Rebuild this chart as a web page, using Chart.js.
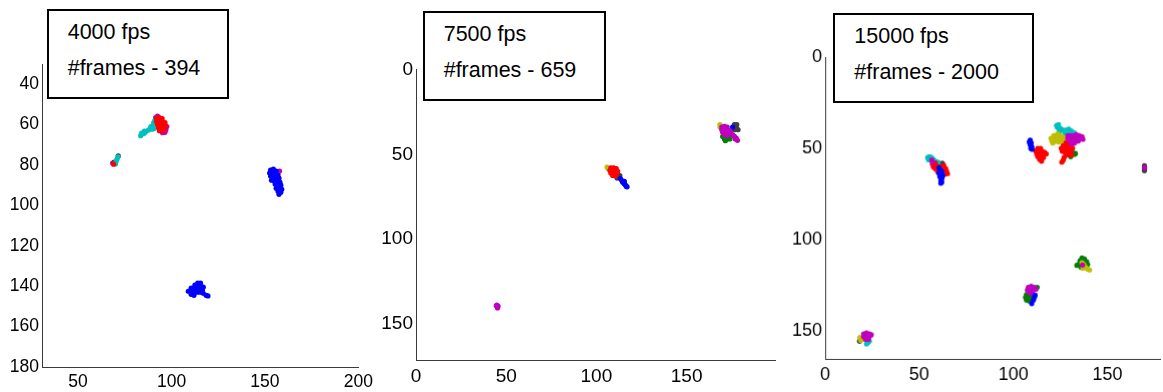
<!DOCTYPE html>
<html>
<head>
<meta charset="utf-8">
<script src="https://cdn.jsdelivr.net/npm/chart.js@4.4.0/dist/chart.umd.min.js"></script>
<style>
  body { margin: 0; width: 1163px; height: 392px; overflow: hidden; position: relative; background: #fff;
         font-family: "Liberation Sans", Arial, Helvetica, sans-serif; }
  .panel { position: absolute; overflow: hidden; }
  .panel canvas { position: absolute; left: 0; top: 0; }
  .note { position: absolute; box-sizing: border-box; border: 2px solid #000; background: #fff; color: #000; }
  .note div { position: absolute; left: 19px; font-size: 21.5px; line-height: 1; white-space: nowrap; }
</style>
</head>
<body>
<script>
// ── Colours (old MATLAB line order) ───────────────────────────────────────────
const BLUE = "#0000FF", GREEN = "#008000", RED = "#FF0000", CYAN = "#00BFBF",
      MAGENTA = "#BF00BF", OLIVE = "#BFBF00", DARK = "#404040";

// ── Panel 1: 4000 fps, 394 frames ─────────────────────────────────────────────
const P1_NOTE = ["4000 fps", "#frames - 394"];
const P1_XTICKS = [50, 100, 150, 200];
const P1_YTICKS = [40, 60, 80, 100, 120, 140, 160, 180];
const P1_RED = [[92,57],[93.5,56.5],[95,57],[92,58.5],[93.5,58.5],[95,58.5],[96.5,59],[92.5,60],[94,60],[95.5,60],
  [96.8,60.5],[93,61.5],[94.5,61.5],[96,61.5],[93.5,63],[95,63],[96,62.5],[69,79.6]];
const P1_BLUE = [[153,82.5],[154.5,82],[156,83],[152.5,84],[154,84],[155.5,84.5],[157,85],[153,85.5],[154.5,86],[156,86],
  [157.5,86.5],[153.5,87.5],[155,88],[156.5,88],[158,88.5],[155.5,89.5],[157,90],[158.5,90],[156,91.5],[157.5,91.5],
  [159,92],[157,93],[158.5,93.5],[157.5,94.5],
  [114,138.5],[115.5,138.5],[112.5,139.5],[114,140],[115.5,140],[117,140.5],[110.5,141],[112,141],[113.5,141.5],[115,141.5],
  [116.5,142],[109,142.5],[110.5,142.5],[112,143],[113.5,143],[115,143],[117,143.5],[110.5,144],[112,144.5],[118.5,144.5],[119.5,144.8]];
const P1_CYAN = [[83.5,65.5],[84,64.2],[85,64.5],[85.5,63.2],[86,63.8],[87.5,62.8],[88.5,62],[89,61],[90,60.5],[90.5,59],
  [91,58],[91.5,59.5],[90.5,62],[89.5,62.3],[71.3,76],[70.8,77.2],[70.3,78.4],[70,79.5]];
const P1_DARK = [[71.5,75.5],[69.3,78.6]];
const P1_MAGENTA = [[91.5,56.5],[92.5,55.8],[97,62.5],[96.5,63.8],[95.2,64],[97.5,61],[68.5,79],[157,83.5],[157.8,83]];

// ── Panel 2: 7500 fps, 659 frames ─────────────────────────────────────────────
const P2_NOTE = ["7500 fps", "#frames - 659"];
const P2_XTICKS = [0, 50, 100, 150];
const P2_YTICKS = [0, 50, 100, 150];
const P2_RED = [[108,58],[109.5,58],[111,58.5],[107.5,59.5],[109,59.5],[110.5,60],[111.8,60],[108,61],[109.5,61.2],
  [111,61.5],[109,62.5],[110.5,62.8]];
const P2_MAGENTA = [[169.5,34],[171,33.5],[172.5,34],[169.5,35.5],[171,35.5],[172.5,35.5],[174,36],[170,37],[171.5,37],
  [173,37.5],[174.5,37.5],[175.5,38.5],[171,38.5],[172.5,39],[176.5,39.5],[177.5,40.5],[178.2,41.8],[177,41],
  [44.8,138.8],[45.5,139.5],[44.5,139.3],[45.2,140.5]];
const P2_BLUE = [[113.3,64.3],[114,65.3],[114.5,66.3],[115.3,67.2],[116,68],[117,69.2],[115.5,66],[116.5,68.8],[175.5,34]];
const P2_DARK = [[112,63.3],[113,62.5],[111.5,64],[176.5,32.5],[177.8,32.5],[176,34],[177.5,34],[178.5,35.5],[176.5,35.5]];
const P2_GREEN = [[170,39.5],[171,41],[172.5,41],[174,41],[173.5,40],[171.5,42]];
const P2_OLIVE = [[105.9,57.5],[106.5,58.5],[168.5,32.5],[168.5,34],[169.5,33.5]];

// ── Panel 3: 15000 fps, 2000 frames ───────────────────────────────────────────
const P3_NOTE = ["15000 fps", "#frames - 2000"];
const P3_XTICKS = [0, 50, 100, 150];
const P3_YTICKS = [0, 50, 100, 150];
const P3_BLUE = [[60.5,60.5],[61,62],[62,62.5],[60.5,63.5],[61.5,64],[62.5,65],[61,65.5],[62,66.5],[61.5,67.5],[62,68.5],
  [61.5,69],[109,45.5],[108.5,46.5],[109.5,47],[109,48],[109.8,49],[110,50.5],[109.3,50],
  [111.6,130.3],[110.7,133],[109.8,134.9],[111.2,131.5]];
const P3_MAGENTA = [[56.7,56.3],[57,57.5],
  [129,43],[130.5,43],[132,43],[133.5,42.5],[135,43],[136.5,43.5],[129,44.5],[130.5,44.5],[132,44.5],[133.5,44.5],
  [135,44.5],[137,45],[130,46],[131.5,46],[133,46],[134.5,46],[131,47.5],[132.5,47],[169.8,60.5],
  [108,126],[109.5,125.5],[111,126],[107.5,127.5],[109,127.5],[110.5,127.5],[112,127],[108.5,129],[110,129],[136.8,113.8],
  [20.5,151.5],[22,151],[23.5,151.5],[20.5,153],[22,153],[23.5,153],[24.5,152],[21.5,154.5],[23,154.5]];
const P3_RED = [[57,58.5],[58.5,58],[57.5,60],[59,59.5],[60.5,60],[59,61.5],[61,61.5],[63,59.5],[64,61],[64.5,62.5],
  [65,63.8],[63.5,64],[60,63],[58,60.5],[62,60],
  [113,50],[114.5,50],[112,51.5],[113.5,51.5],[115,51.5],[116.5,52],[112.5,53],[114,53],[115.5,53.5],[117.5,53],
  [113,54.5],[114.5,54.5],[116,55],[114,56],[115,57],
  [128,47],[129.5,47.5],[126.5,48.5],[128,48.5],[129.5,49],[131,48.5],[125.5,50],[127,50],[128.5,50.5],[130,50.5],
  [131.5,50],[126,51.5],[127.5,52],[129,52],[130.5,52],[128,53.5],[129.5,53.5],[127,55],[126.5,56.5],[125.8,57.5],[131,53.5]];
const P3_OLIVE = [[120,44.5],[120.5,46],[121.5,43],[122,44.5],[122,46],[123.5,42],[123.5,43.5],[123.5,45],[125,43],
  [125,44.5],[125,46],[126.5,44],[126.5,45.5],[128,45],[128,46.5],[124,46.5],[121,47],
  [136.5,112.5],[137.5,113.5],[138.5,115],[139.5,116],[140.5,116.5],[137,115.5],[18.5,153.5],[19,155]];
const P3_CYAN = [[54.5,55],[55.5,54.5],[56.5,55],[55,56.2],[57.5,56],[58.5,57],[60,57.5],
  [123,37.5],[124,37],[123.5,38.5],[125,39],[126.5,40],[128,40],[129.5,39.5],[131,40.5],[132.5,41.5],[127.5,41.5],
  [130,42],[124.5,40.5],[22.7,156.3],[23.5,155.5],[22,157]];
const P3_GREEN = [[63.2,61.8],[64,63],[62.8,63.5],[131.8,52.5],[132.5,53.2],[130.5,54.5],[133,52.8],
  [107,130],[108.5,130.5],[110,130.5],[106.5,131.5],[108,132],[109.5,132],[107,133],[108.5,133.5],[112.7,126],[111.5,127],
  [136.5,110],[137.8,110.5],[135.5,111.5],[139,112],[134.5,113.5],[139.5,113.5],[136,115],[133.8,114]];
const P3_DARK = [[62.3,58.1],[62.8,59],[169.7,59.5],[169.7,61],[169.7,62.2],[18.3,155.5]];

// ── Layout of the three axes (page pixels) ────────────────────────────────────
const AXIS_W = 50, AXIS_H = 34, PAD_T = 14;

const PANELS = [
  { note: P1_NOTE, xTicks: P1_XTICKS, yTicks: P1_YTICKS, xRange: [30.7, 200], yRange: [30, 180], fontSize: 17.5,
    plot: { l: 41.7, r: 362, t: 64, b: 367 }, clipR: 373, padR: 16, box: { l: 46.7, t: 9.3, w: 182.5, h: 90 },
    tracks: [[P1_RED, RED], [P1_BLUE, BLUE], [P1_CYAN, CYAN], [P1_DARK, DARK], [P1_MAGENTA, MAGENTA]] },
  { note: P2_NOTE, xTicks: P2_XTICKS, yTicks: P2_YTICKS, xRange: [0, 199], yRange: [0, 171.2], fontSize: 19,
    plot: { l: 416, r: 775, t: 69, b: 360 }, clipR: 790, padR: 4, box: { l: 422.7, t: 11, w: 183, h: 90 },
    tracks: [[P2_RED, RED], [P2_MAGENTA, MAGENTA], [P2_BLUE, BLUE], [P2_DARK, DARK], [P2_GREEN, GREEN], [P2_OLIVE, OLIVE]] },
  { note: P3_NOTE, xTicks: P3_XTICKS, yTicks: P3_YTICKS, xRange: [0, 178.2], yRange: [0, 165.2], fontSize: 18,
    plot: { l: 825.3, r: 1163, t: 57.3, b: 358.7 }, clipR: 1163, padR: 0, box: { l: 833.3, t: 13.3, w: 200.7, h: 90 },
    tracks: [[P3_BLUE, BLUE], [P3_MAGENTA, MAGENTA], [P3_RED, RED], [P3_OLIVE, OLIVE], [P3_CYAN, CYAN],
             [P3_GREEN, GREEN], [P3_DARK, DARK]] },
];

function trackDataset(points, color) {
  return {
    data: points.map(([x, y]) => ({ x, y })),
    backgroundColor: color,
    borderWidth: 0,
    pointRadius: 2.6,
    pointHoverRadius: 2.6,
  };
}

function axisOptions(range, ticks, fontSize, vertical) {
  return {
    type: "linear",
    min: range[0],
    max: range[1],
    reverse: vertical,
    grid: { display: false, drawTicks: false },
    border: { display: true, color: "#3a3a3a", width: 1 },
    ticks: {
      color: "#000",
      padding: vertical ? 3 : 5,
      font: { family: "'Liberation Sans', Arial, sans-serif", size: fontSize },
    },
    afterBuildTicks: axis => { axis.ticks = ticks.map(v => ({ value: v })); },
    afterFit: axis => { if (vertical) axis.width = AXIS_W; else axis.height = AXIS_H; },
  };
}

function renderPanel(p) {
  const left = p.plot.l - AXIS_W;
  const top = p.plot.t - PAD_T;
  const w = (p.plot.r - p.plot.l) + AXIS_W + p.padR;
  const h = (p.plot.b - p.plot.t) + PAD_T + AXIS_H;

  const wrap = document.createElement("div");
  wrap.className = "panel";
  wrap.style.cssText = `left:${left}px;top:${top}px;width:${p.clipR - left}px;height:${h}px`;
  const canvas = document.createElement("canvas");
  canvas.width = w; canvas.height = h;
  canvas.style.width = w + "px"; canvas.style.height = h + "px";
  wrap.appendChild(canvas);
  document.body.appendChild(wrap);

  new Chart(canvas, {
    type: "scatter",
    data: { datasets: p.tracks.map(([pts, c]) => trackDataset(pts, c)) },
    options: {
      responsive: false,
      animation: false,
      devicePixelRatio: 1,
      layout: { padding: { top: PAD_T, right: p.padR, left: 0, bottom: 0 } },
      plugins: { legend: { display: false }, tooltip: { enabled: false } },
      scales: {
        x: axisOptions(p.xRange, p.xTicks, p.fontSize, false),
        y: axisOptions(p.yRange, p.yTicks, p.fontSize, true),
      },
    },
  });

  // text box drawn over the axes, as in the figure
  const box = document.createElement("div");
  box.className = "note";
  box.style.cssText = `left:${p.box.l}px;top:${p.box.t}px;width:${p.box.w}px;height:${p.box.h}px`;
  box.innerHTML = `<div style="top:11px">${p.note[0]}</div><div style="top:47px">${p.note[1]}</div>`;
  document.body.appendChild(box);
}

PANELS.forEach(renderPanel);
</script>
</body>
</html>
